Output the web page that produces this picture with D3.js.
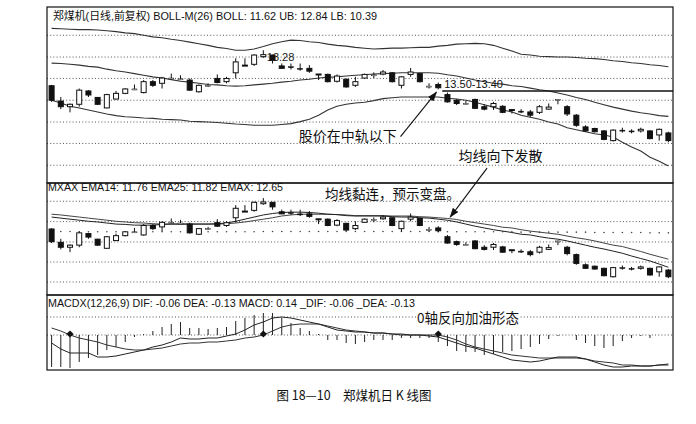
<!DOCTYPE html>
<html>
<head>
<meta charset="utf-8">
<script src="https://cdn.jsdelivr.net/npm/d3@7"></script>
<style>
  body { margin: 0; background: #fff; }
  svg { display: block; }
</style>
</head>
<body>
<svg id="chart"></svg>
<script>
/*******************
 * STEP 1: Data
 *******************/

// daily candles, 68 sessions
const candleOpen = [12.38,12.00,11.86,11.92,12.25,12.09,11.83,12.05,12.19,12.29,
  12.21,12.48,12.44,12.56,12.54,12.52,12.23,12.38,12.56,12.48,
  12.70,12.87,12.91,13.10,13.14,12.87,12.85,12.81,12.81,12.65,
  12.66,12.49,12.54,12.39,12.57,12.64,12.67,12.70,12.39,12.66,
  12.68,12.37,12.41,12.16,12.02,11.94,12.04,11.86,11.86,11.87,
  11.77,11.75,11.73,11.72,11.80,12.03,11.86,11.65,11.36,11.32,
  11.26,11.02,11.28,11.26,11.26,11.26,11.16,11.21];
const candleHigh = [12.40,12.10,11.94,12.31,12.27,12.10,12.18,12.25,12.32,12.41,
  12.52,12.52,12.60,12.68,12.64,12.56,12.41,12.44,12.66,12.60,
  13.06,13.06,13.16,13.26,13.15,12.93,12.93,12.93,12.89,12.67,
  12.68,12.66,12.56,12.60,12.68,12.71,12.77,12.72,12.62,12.82,
  12.70,12.44,12.46,12.21,12.05,12.00,12.06,11.92,11.98,11.90,
  11.79,11.80,11.78,11.90,11.94,12.05,11.90,11.68,11.40,11.34,
  11.28,11.30,11.34,11.30,11.34,11.28,11.32,11.24];
const candleLow = [11.98,11.80,11.72,11.86,12.10,11.90,11.82,12.04,12.17,12.27,
  12.19,12.35,12.31,12.54,12.52,12.25,12.21,12.35,12.44,12.44,
  12.56,12.87,12.87,13.07,12.93,12.81,12.78,12.75,12.70,12.52,
  12.46,12.46,12.33,12.35,12.55,12.57,12.64,12.46,12.31,12.60,
  12.46,12.31,12.29,11.96,11.90,11.92,11.80,11.77,11.78,11.70,
  11.69,11.70,11.60,11.68,11.78,11.92,11.63,11.36,11.24,11.22,
  11.03,11.00,11.22,11.20,11.22,11.05,11.02,10.98];
const candleClose = [12.02,11.86,11.92,12.27,12.15,11.92,12.16,12.19,12.30,12.30,
  12.48,12.39,12.57,12.57,12.55,12.27,12.39,12.39,12.46,12.56,
  12.97,12.89,13.14,13.15,13.01,12.81,12.84,12.80,12.74,12.67,
  12.48,12.62,12.35,12.48,12.66,12.65,12.72,12.48,12.60,12.72,
  12.48,12.37,12.33,11.98,11.94,11.94,11.82,11.80,11.94,11.72,
  11.79,11.74,11.65,11.86,11.85,12.04,11.68,11.40,11.26,11.24,
  11.05,11.28,11.27,11.25,11.30,11.07,11.30,11.02];

// BOLL-M(26) bands
const bollUpper = [13.80,13.79,13.78,13.77,13.77,13.76,13.74,13.72,13.69,13.67,
  13.63,13.59,13.57,13.53,13.50,13.46,13.42,13.38,13.33,13.30,
  13.26,13.26,13.29,13.35,13.42,13.47,13.51,13.50,13.47,13.45,
  13.41,13.38,13.36,13.33,13.31,13.29,13.30,13.31,13.31,13.32,
  13.33,13.33,13.36,13.38,13.41,13.42,13.43,13.42,13.38,13.31,
  13.24,13.16,13.14,13.11,13.10,13.09,13.09,13.08,13.06,13.05,
  13.03,13.00,12.98,12.95,12.93,12.90,12.88,12.85];
const bollMid = [12.94,12.93,12.91,12.89,12.86,12.84,12.79,12.75,12.72,12.68,
  12.64,12.60,12.57,12.53,12.49,12.47,12.44,12.41,12.40,12.38,
  12.37,12.38,12.40,12.42,12.44,12.47,12.49,12.52,12.54,12.57,
  12.59,12.60,12.62,12.64,12.65,12.67,12.68,12.69,12.70,12.70,
  12.70,12.70,12.69,12.65,12.62,12.57,12.52,12.48,12.44,12.42,
  12.38,12.36,12.32,12.28,12.25,12.20,12.15,12.09,12.04,11.97,
  11.91,11.85,11.80,11.75,11.71,11.68,11.64,11.62];
const bollLower = [12.02,11.95,11.87,11.83,11.78,11.73,11.68,11.64,11.61,11.60,
  11.58,11.57,11.55,11.54,11.53,11.50,11.49,11.48,11.47,11.45,
  11.43,11.42,11.40,11.40,11.40,11.42,11.44,11.49,11.55,11.65,
  11.78,11.87,11.92,11.95,11.97,12.01,12.06,12.08,12.10,12.10,
  12.10,12.10,12.10,12.07,12.05,12.02,11.97,11.91,11.85,11.78,
  11.73,11.65,11.60,11.55,11.48,11.43,11.34,11.29,11.24,11.19,
  11.16,11.11,10.98,10.86,10.76,10.61,10.51,10.39];

// MXAX panel
const ema14 = [12.72,12.69,12.66,12.63,12.60,12.58,12.55,12.52,12.51,12.49,
  12.49,12.49,12.51,12.52,12.52,12.52,12.52,12.52,12.53,12.55,
  12.60,12.66,12.72,12.78,12.82,12.85,12.86,12.86,12.85,12.83,
  12.80,12.79,12.76,12.75,12.75,12.75,12.75,12.73,12.72,12.72,
  12.70,12.69,12.66,12.63,12.58,12.52,12.46,12.41,12.36,12.32,
  12.28,12.23,12.21,12.16,12.12,12.09,12.04,11.98,11.92,11.86,
  11.81,11.75,11.69,11.61,11.54,11.47,11.38,11.29];
const ema25 = [12.80,12.78,12.75,12.72,12.69,12.66,12.63,12.60,12.58,12.56,
  12.55,12.53,12.52,12.52,12.52,12.52,12.52,12.52,12.52,12.53,
  12.55,12.58,12.62,12.66,12.70,12.75,12.78,12.80,12.80,12.80,
  12.80,12.79,12.78,12.76,12.76,12.76,12.76,12.75,12.75,12.75,
  12.73,12.72,12.70,12.68,12.65,12.60,12.56,12.52,12.48,12.43,
  12.41,12.36,12.32,12.29,12.26,12.23,12.18,12.13,12.09,12.04,
  11.98,11.92,11.88,11.81,11.74,11.66,11.59,11.52];
const emaX = [12.31,12.31,12.31,12.30,12.30,12.30,12.30,12.30,12.30,12.30,
  12.30,12.30,12.30,12.30,12.30,12.30,12.30,12.30,12.30,12.30,
  12.30,12.30,12.30,12.31,12.31,12.31,12.31,12.31,12.31,12.31,
  12.31,12.31,12.31,12.31,12.31,12.31,12.31,12.31,12.31,12.31,
  12.31,12.31,12.30,12.30,12.30,12.30,12.30,12.30,12.30,12.30,
  12.30,12.29,12.29,12.29,12.29,12.29,12.29,12.29,12.29,12.28,
  12.28,12.28,12.28,12.28,12.28,12.27,12.27,12.27];

// MACDX(12,26,9)
const macdBar = [-0.32,-0.32,-0.33,-0.27,-0.23,-0.20,-0.15,-0.12,-0.07,-0.02,
  0.01,0.04,0.08,0.11,0.13,0.07,0.07,0.06,0.07,0.08,
  0.14,0.17,0.20,0.22,0.22,0.17,0.12,0.07,0.04,0.01,
  -0.05,-0.05,-0.08,-0.09,-0.07,-0.05,-0.05,-0.05,-0.03,-0.03,
  -0.03,-0.03,-0.07,-0.11,-0.16,-0.17,-0.17,-0.20,-0.19,-0.17,
  -0.16,-0.14,-0.12,-0.09,-0.04,-0.01,0,-0.05,-0.08,-0.11,
  -0.13,-0.11,-0.06,-0.03,-0.01,-0.03,0,0];
const macdDif = [-0.08,-0.14,-0.18,-0.18,-0.18,-0.22,-0.22,-0.21,-0.19,-0.17,
  -0.15,-0.12,-0.10,-0.07,-0.03,-0.04,-0.04,-0.03,-0.03,-0.01,
  0.01,0.05,0.10,0.13,0.17,0.18,0.17,0.15,0.13,0.11,
  0.08,0.05,0.04,0.03,0.03,0.02,0.02,0.01,0.01,0.00,
  0.00,-0.01,-0.02,-0.05,-0.08,-0.11,-0.13,-0.16,-0.19,-0.22,
  -0.25,-0.26,-0.27,-0.26,-0.24,-0.22,-0.22,-0.22,-0.24,-0.27,
  -0.30,-0.32,-0.32,-0.31,-0.31,-0.31,-0.30,-0.30];
const macdDea = [0.07,0.04,0.00,-0.03,-0.05,-0.07,-0.10,-0.12,-0.14,-0.15,
  -0.15,-0.14,-0.13,-0.11,-0.09,-0.08,-0.08,-0.07,-0.07,-0.06,
  -0.05,-0.03,-0.02,0.00,0.04,0.08,0.10,0.11,0.11,0.11,
  0.09,0.07,0.05,0.04,0.03,0.02,0.02,0.01,0.00,0.00,
  0.00,0.00,0.00,-0.02,-0.05,-0.09,-0.12,-0.14,-0.16,-0.18,
  -0.20,-0.21,-0.22,-0.23,-0.23,-0.23,-0.23,-0.23,-0.24,-0.26,
  -0.27,-0.28,-0.30,-0.30,-0.31,-0.31,-0.30,-0.29];
const deaZeroMarks = [2, 23, 42]; // black markers where DEA meets the 0 axis

// dotted grid levels per panel
const gridTop = [13.63, 13.09, 12.56, 12.02, 11.48, 10.95, 10.41];
const gridMid = [13.17, 12.59, 12.01, 11.44, 10.87];
const gridMacd = [0.18, 0];

// support line and labels
const supportLevel = 12.25, supportStart = 42;
const highIndex = 23;
const titleTop = "郑煤机(日线,前复权) BOLL-M(26) BOLL: 11.62 UB: 12.84 LB: 10.39";
const titleMid = "MXAX  EMA14: 11.76 EMA25: 11.82 EMAX: 12.65";
const titleMacd = "MACDX(12,26,9) DIF: -0.06 DEA: -0.13 MACD: 0.14 _DIF: -0.06 _DEA: -0.13";
const caption = "图 18—10　郑煤机日 K 线图";

/*******************
 * STEP 2: Chart Setup
 *******************/
const width = 696, height = 424;
const plotLeft = 47, plotRight = 673;
const latin = '"Liberation Sans", Arial, sans-serif';
const cjk = '"Noto Sans CJK SC", sans-serif';

const svg = d3.select("#chart").attr("width", width).attr("height", height);

const n = candleOpen.length;
const xBand = d3.scaleBand().domain(d3.range(n)).range([plotLeft, plotRight]);
const xAt = i => xBand(0) + xBand.step() * i + xBand.bandwidth() / 2; // works with fractions too

const yTop = d3.scaleLinear().domain([14.33, 9.97]).range([7, 183]);
const yMid = d3.scaleLinear().domain([13.69, 10.50]).range([183, 295]);
const yMacd = d3.scaleLinear().domain([0.40, -0.35]).range([295, 370]);

svg.append("defs").append("marker")
  .attr("id", "arrow")
  .attr("markerUnits", "userSpaceOnUse")
  .attr("markerWidth", 10).attr("markerHeight", 7)
  .attr("refX", 9).attr("refY", 3.5)
  .attr("orient", "auto")
  .append("path").attr("d", "M0,0 L10,3.5 L0,7 Z").attr("fill", "#111");

/*******************
 * STEP 3: Grid + titles
 *******************/
function drawGrid(levels, yScale) {
  svg.append("g").selectAll("line")
    .data(levels)
    .enter().append("line")
    .attr("x1", plotLeft).attr("x2", plotRight)
    .attr("y1", d => yScale(d)).attr("y2", d => yScale(d))
    .attr("stroke", "#444").attr("stroke-width", 0.9)
    .attr("stroke-dasharray", "1,2.2");
}
drawGrid(gridTop, yTop);
drawGrid(gridMid, yMid);
drawGrid(gridMacd, yMacd);

function title(txt, x, y, len) {
  svg.append("text").text(txt)
    .attr("x", x).attr("y", y)
    .attr("font-family", latin + ", " + cjk)
    .attr("font-size", "11px").attr("fill", "#111")
    .attr("textLength", len).attr("lengthAdjust", "spacingAndGlyphs");
}
title(titleTop, 53, 20, 324);
title(titleMid, 48, 191, 235);
title(titleMacd, 48, 307, 367);

// highest price label goes under the candles
svg.append("text").text("13.28")
  .attr("x", xAt(highIndex) + 31).attr("y", yTop(candleHigh[highIndex]) + 11)
  .attr("text-anchor", "end")
  .attr("font-family", latin).attr("font-size", "11px").attr("fill", "#222");

/*******************
 * STEP 4: Lines
 *******************/
function drawLine(values, yScale, color, w) {
  const line = d3.line().x((d, i) => xAt(i)).y(d => yScale(d));
  svg.append("path").datum(values)
    .attr("d", line)
    .attr("fill", "none")
    .attr("stroke", color).attr("stroke-width", w);
}
drawLine(bollUpper, yTop, "#333", 1.1);
drawLine(bollMid, yTop, "#333", 1.1);
drawLine(bollLower, yTop, "#333", 1.1);

// EMAX is drawn as one dot per session
svg.append("g").selectAll("circle")
  .data(emaX)
  .enter().append("circle")
  .attr("cx", (d, i) => xAt(i)).attr("cy", d => yMid(d))
  .attr("r", 0.8).attr("fill", "#444");

drawLine(ema25, yMid, "#444", 1);
drawLine(ema14, yMid, "#222", 1);

/*******************
 * STEP 5: Candles
 *******************/
const candles = d3.range(n).map(i => ({
  i: i, o: candleOpen[i], h: candleHigh[i], l: candleLow[i], c: candleClose[i]
}));

function drawCandles(yScale) {
  const g = svg.append("g");
  const bodyW = 5;
  const c = g.selectAll("g").data(candles).enter().append("g");

  c.append("line")
    .attr("x1", d => xAt(d.i)).attr("x2", d => xAt(d.i))
    .attr("y1", d => yScale(d.h)).attr("y2", d => yScale(d.l))
    .attr("stroke", "#111").attr("stroke-width", 1);

  c.append("rect")
    .attr("x", d => xAt(d.i) - bodyW / 2)
    .attr("width", bodyW)
    .attr("y", d => yScale(Math.max(d.o, d.c)))
    .attr("height", d => Math.max(1, Math.abs(yScale(d.o) - yScale(d.c))))
    .attr("fill", d => d.c >= d.o ? "#fff" : "#111")
    .attr("stroke", "#111")
    .attr("stroke-width", d => Math.abs(d.o - d.c) < 0.015 ? 0.5 : 1);
}
drawCandles(yTop);
drawCandles(yMid);

/*******************
 * STEP 6: MACD
 *******************/
svg.append("g").selectAll("line")
  .data(macdBar)
  .enter().append("line")
  .attr("x1", (d, i) => xAt(i)).attr("x2", (d, i) => xAt(i))
  .attr("y1", yMacd(0)).attr("y2", d => yMacd(d))
  .attr("stroke", "#222").attr("stroke-width", 1);

drawLine(macdDea, yMacd, "#333", 1);
drawLine(macdDif, yMacd, "#222", 1);

// small square-ish diamonds
svg.append("g").selectAll("path")
  .data(deaZeroMarks)
  .enter().append("path")
  .attr("d", d3.symbol(d3.symbolSquare, 26))
  .attr("transform", d => `translate(${xAt(d)},${yMacd(macdDea[d]) - 1}) rotate(45)`)
  .attr("fill", "#111");

/*******************
 * STEP 7: Annotations
 *******************/
svg.append("line")
  .attr("x1", xAt(supportStart) + 4).attr("x2", plotRight)
  .attr("y1", yTop(supportLevel)).attr("y2", yTop(supportLevel))
  .attr("stroke", "#111").attr("stroke-width", 1.6);

svg.append("text").text("13.50-13.40")
  .attr("x", xAt(supportStart) + 6).attr("y", yTop(supportLevel) - 2.5)
  .attr("font-family", latin).attr("font-size", "11px").attr("fill", "#111");

function note(txt, x, y, size, anchor) {
  return svg.append("text").text(txt)
    .attr("x", x).attr("y", y)
    .attr("text-anchor", anchor || "start")
    .attr("font-family", cjk).attr("font-size", size + "px").attr("fill", "#111");
}
function arrow(x1, y1, x2, y2) {
  svg.append("line")
    .attr("x1", x1).attr("y1", y1).attr("x2", x2).attr("y2", y2)
    .attr("stroke", "#111").attr("stroke-width", 1.1)
    .attr("marker-end", "url(#arrow)");
}

note("股价在中轨以下", xAt(37.5), yTop(11.01), 14, "end");
arrow(xAt(37.9), yTop(11.12), xAt(41.8), yTop(12.22));

note("均线向下发散", xAt(44.2), yTop(10.51), 14);
arrow(xAt(47.3), yTop(10.34), xAt(43.3), yMid(12.72));

note("均线黏连，预示变盘。", xAt(29.7), yMid(13.24), 13.5);

// the MACD note sits on the upper grid line with a white back
const macdNote = note("0轴反向加油形态", xAt(39.7), yMacd(0.125), 13.5);
const bb = macdNote.node().getBBox();
svg.insert("rect", () => macdNote.node())
  .attr("x", bb.x - 1).attr("y", bb.y + 2)
  .attr("width", bb.width + 2).attr("height", bb.height - 4)
  .attr("fill", "#fff");

/*******************
 * STEP 8: Frames + caption
 *******************/
[yTop, yMid, yMacd].forEach(s => {
  const [y0, y1] = s.range();
  svg.append("rect")
    .attr("x", plotLeft).attr("y", y0)
    .attr("width", plotRight - plotLeft).attr("height", y1 - y0)
    .attr("fill", "none").attr("stroke", "#111").attr("stroke-width", 1.2);
});

svg.append("text").text(caption)
  .attr("x", 354).attr("y", 400)
  .attr("text-anchor", "middle")
  .attr("font-family", cjk).attr("font-size", "13px").attr("fill", "#111")
  .attr("textLength", 155).attr("lengthAdjust", "spacingAndGlyphs");
</script>
</body>
</html>
